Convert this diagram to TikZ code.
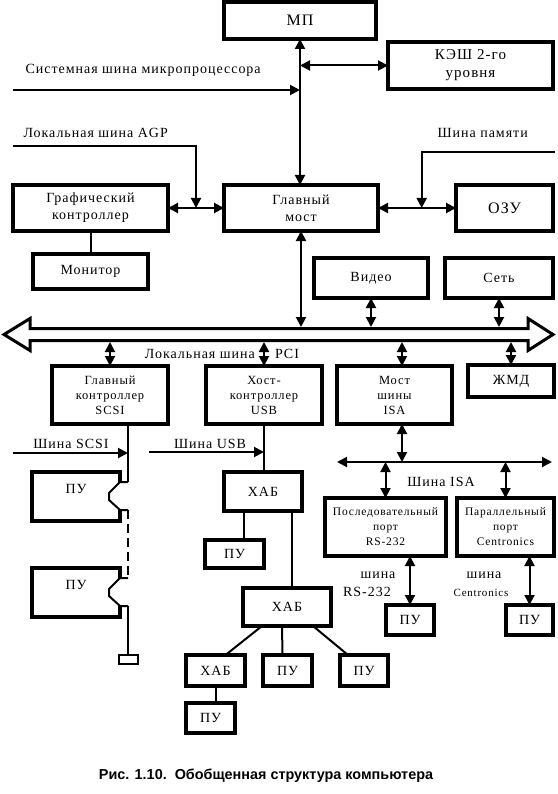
\documentclass[tikz,border=0pt]{standalone}
\usepackage{fontspec}
\setmainfont[LetterSpace=7]{Liberation Serif}
\newfontfamily\capfont{Liberation Sans}
\usepackage{tikz}
\usetikzlibrary{positioning}
\usetikzlibrary{calc}
\usetikzlibrary{arrows.meta}

% plug on the right side of a peripheral box
\newcommand{\plug}[1]{%
  \fill[white] ($(#1.north east)+(-2.5,11)$) rectangle ($(#1.north east)+(2.5,38)$);
  \draw[conn] ($(#1.north east)+(8,10)$) -- ++(-8,0) -- ++(-11,11) -- ++(0,7) -- ++(11,10) -- ++(8,0);
}

\begin{document}
\begin{tikzpicture}[
    x=1pt, y=-1pt,
    font=\fontsize{14}{17}\selectfont,
    box/.style={draw, line width=3.2pt, outer sep=0pt, inner sep=0pt, align=center},
    conn/.style={line width=2pt},
    arr/.style={conn, -{Triangle[length=10pt,width=10pt]}},
    darr/.style={conn, {Triangle[length=10pt,width=10pt]}-{Triangle[length=10pt,width=10pt]}},
    small/.style={font=\fontsize{12.5}{15}\selectfont},
    tiny/.style={font=\fontsize{11.5}{15}\selectfont}
  ]
  \useasboundingbox (0,0) rectangle (557,794);

  % top level
  \node[box, minimum width=152, minimum height=37, font=\fontsize{16}{19}\selectfont] (mp) at (300,20.5) {МП};
  \node[box, minimum width=165, minimum height=47, font=\fontsize{15}{18}\selectfont] (cache) at (470.5,65.5) {КЭШ 2-го\\уровня};
  \node[box, minimum width=155, minimum height=46] (gctrl) at (90.5,208) {Графический\\контроллер};
  \node[box, minimum width=154, minimum height=46] (bridge) at (301,208) {Главный\\мост};
  \node[box, minimum width=97, minimum height=46, font=\fontsize{16}{19}\selectfont] (ram) at (504.5,208) {ОЗУ};
  \node[box, minimum width=115, minimum height=35] (monitor) at (90.5,271.5) {Монитор};
  \node[box, minimum width=114, minimum height=40] (video) at (371,278) {Видео};
  \node[box, minimum width=108, minimum height=40] (net) at (499,278) {Сеть};

  \node[anchor=west] (syslbl) at (22,70) {Системная шина микропроцессора};
  \node[anchor=west] (agplbl) at (20,133) {Локальная шина AGP};
  \node[anchor=west] (memlbl) at (434,133) {Шина памяти};

  \coordinate (sysin) at (13,90);
  \coordinate (agpin) at (13,146);
  \coordinate (memin) at (555,152);

  \draw[darr] (mp.south) -- (mp.south |- bridge.north);
  \draw[darr] (mp.south |- cache.west) -- (cache.west);
  \draw[arr] (sysin) -- (sysin -| mp.south);
  \draw[darr] (gctrl) -- (bridge);
  \draw[darr] (bridge) -- (ram);
  \draw[arr] (agpin) -| ($(gctrl.east)!.5!(bridge.west)$);
  \draw[arr] (memin) -| ($(bridge.east)!.56!(ram.west)$);
  \draw[conn] (gctrl) -- (monitor);

  % PCI bus
  \draw[line width=3pt] (30,328.5) -- (528,328.5) -- (528,318.5) -- (553,334.5) -- (528,350.5)
    -- (528,340.5) -- (30,340.5) -- (30,350.5) -- (4,334.5) -- (30,318.5) -- cycle;
  \coordinate (pcit) at (0,327);
  \coordinate (pcib) at (0,342);
  \node[anchor=east, inner sep=0pt] (pcilbl) at (255,354) {Локальная шина};
  \node[anchor=west, inner sep=0pt] (pcilbl2) at (275,354) {PCI};

  \draw[darr] (bridge) -- (bridge |- pcit);
  \draw[darr] (video) -- (video |- pcit);
  \draw[darr] (net) -- (net |- pcit);

  % PCI devices
  \node[box, minimum width=116, minimum height=58, small] (scsi) at (110,395) {Главный\\контроллер\\SCSI};
  \node[box, minimum width=116, minimum height=58, small] (usbc) at (264,395) {Хост-\\контроллер\\USB};
  \node[box, minimum width=115, minimum height=58, small] (isab) at (394.5,395) {Мост\\шины\\ISA};
  \node[box, minimum width=86, minimum height=32] (hdd) at (511,381) {ЖМД};
  \coordinate (isax) at (402,0);

  \draw[darr] (scsi |- pcib) -- (scsi);
  \draw[darr] (usbc |- pcib) -- (usbc);
  \draw[darr] (isax |- pcib) -- (isax |- isab.north);
  \draw[darr] (hdd |- pcib) -- (hdd);

  % SCSI chain
  \node[box, minimum width=88, minimum height=49] (pua) at (76,496.5) {};
  \node (pualbl) at (76,489) {ПУ};
  \node[box, minimum width=88, minimum height=49] (pub) at (76,592.5) {};
  \node (publbl) at (76,585) {ПУ};
  \node[draw, line width=2pt, minimum width=19, minimum height=9, inner sep=0pt] (term) at (128,659.5) {};
  \coordinate (scsix) at (128,0);
  \coordinate (scsiin) at (13,453);
  \node (scsilbl) at (71,444) {Шина SCSI};
  \plug{pua}
  \plug{pub}
  \draw[conn] (scsix |- scsi.south) -- ($(pua.north east)+(8,10)$);
  \draw[arr] (scsiin) -- (scsiin -| scsix);
  \draw[conn, dash pattern=on 9pt off 5pt] ($(pua.north east)+(8,38)$) -- ($(pub.north east)+(8,10)$);
  \draw[conn] ($(pub.north east)+(8,38)$) -- (term.north);

  % USB chain
  \coordinate (usbin) at (149,452);
  \node (usblbl) at (210,444) {Шина USB};
  \node[box, minimum width=78, minimum height=39] (hub1) at (263,491.5) {ХАБ};
  \node[box, minimum width=59, minimum height=28] (puc) at (234.5,554) {ПУ};
  \node[box, minimum width=88, minimum height=38] (hub2) at (287,607) {ХАБ};
  \node[box, minimum width=59, minimum height=31] (hub3) at (215.5,670.5) {ХАБ};
  \node[box, minimum width=49, minimum height=31] (pud) at (287.5,670.5) {ПУ};
  \node[box, minimum width=48, minimum height=31] (pue) at (364,670.5) {ПУ};
  \node[box, minimum width=49, minimum height=30] (puf) at (210.5,718) {ПУ};
  \coordinate (h1a) at ($(hub1.south west)+(20,0)$);
  \coordinate (h1b) at ($(hub1.south west)+(68,0)$);

  \draw[arr] (usbin) -- (usbin -| usbc.south);
  \draw[conn] (usbc.south) -- (usbc.south |- hub1.north);
  \draw[conn] (h1a) -- (h1a |- puc.north);
  \draw[conn] (h1b) -- (h1b |- hub2.north);
  \draw[conn] ($(hub2.south)+(-25,0)$) -- ($(hub3.north)+(10,0)$);
  \draw[conn] ($(hub2.south)+(-5,0)$) -- ($(pud.north)+(-5,0)$);
  \draw[conn] ($(hub2.south)+(26,0)$) -- ($(pue.north)+(-16,0)$);
  \draw[conn] (hub3.south) -- (hub3.south |- puf.north);

  % ISA side
  \coordinate (isal) at (337,462);
  \coordinate (isar) at (552,462);
  \draw[darr] (isal) -- (isar);
  \node (isalbl) at (441,482) {Шина ISA};
  \node[box, minimum width=121, minimum height=58, tiny] (ser) at (385.5,527) {Последовательный\\порт\\RS-232};
  \node[box, minimum width=97, minimum height=58, tiny] (par) at (505.5,527) {Параллельный\\порт\\Centronics};
  \node[box, minimum width=48, minimum height=30] (pug) at (410,620) {ПУ};
  \node[box, minimum width=47, minimum height=30] (puh) at (529.5,620) {ПУ};
  \node (serlbl) at (378,575) {шина};
  \node (serlbl2) at (367,592) {RS-232};
  \node (parlbl) at (484,575) {шина};
  \node[font=\fontsize{11}{13}\selectfont] (parlbl2) at (481,593) {Centronics};

  \draw[darr] (isax |- isab.south) -- (isax |- isal);
  \draw[darr] (ser |- isal) -- (ser);
  \draw[darr] (par |- isal) -- (par);
  \draw[darr] (pug |- ser.south) -- (pug);
  \draw[darr] (puh |- par.south) -- (puh);

  \node[font=\capfont\bfseries\fontsize{14.4}{17}\selectfont] (caption) at (266,776) {Рис. 1.10.\ \ Обобщенная структура компьютера};
\end{tikzpicture}
\end{document}
